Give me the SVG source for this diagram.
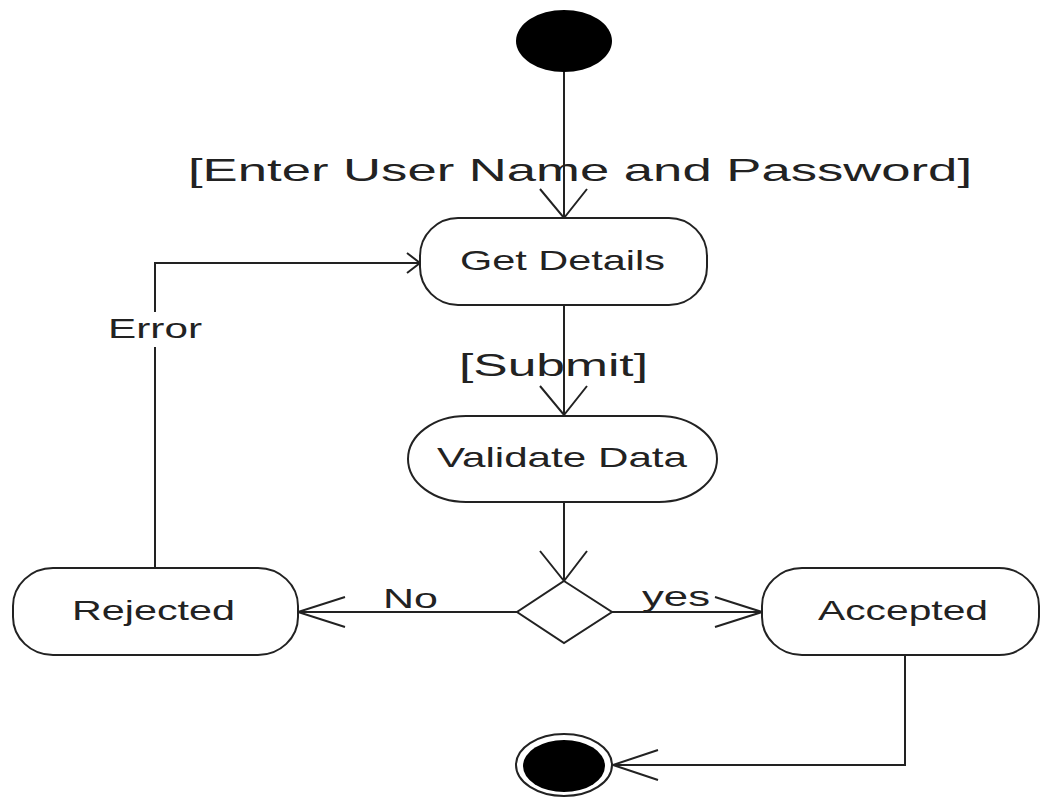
<svg xmlns="http://www.w3.org/2000/svg" width="1040" height="798" viewBox="0 0 1040 798">
<style>
.ln{fill:none;stroke:#222;stroke-width:2}
.nd{fill:#fff;stroke:#222;stroke-width:2}
.t{font-family:"Liberation Sans",Arial,sans-serif;fill:#222;text-anchor:start}
.s28{font-size:28px}
.s32{font-size:32px}
</style>
<rect width="1040" height="798" fill="#fff"/>
<g id="connectors">
<path class="ln" d="M564 72 V218"/>
<path class="ln" d="M540 189 L564 218 L587 189"/>
<path class="ln" d="M564 305 V415"/>
<path class="ln" d="M540 386 L564 415 L587 386"/>
<path class="ln" d="M564 502 V581"/>
<path class="ln" d="M540 551 L564 581 L587 551"/>
<path class="ln" d="M517 612 H298"/>
<path class="ln" d="M345 597 L298 612 L345 627"/>
<path class="ln" d="M612 612 H762"/>
<path class="ln" d="M715 597 L762 612 L715 627"/>
<path class="ln" d="M905 655 V765 H613"/>
<path class="ln" d="M658 750 L613 765 L658 780"/>
<path class="ln" d="M155 568 V347 M155 312 V263 H420"/>
<path class="ln" d="M407 253 L420 263 L407 273"/>
<text class="t s32" x="188" y="181" textLength="784" lengthAdjust="spacingAndGlyphs">[Enter User Name and Password]</text>
<text class="t s32" x="459" y="376" textLength="189" lengthAdjust="spacingAndGlyphs">[Submit]</text>
<text class="t s28" x="108" y="338" textLength="94" lengthAdjust="spacingAndGlyphs">Error</text>
<text class="t s28" x="383" y="608" textLength="55" lengthAdjust="spacingAndGlyphs">No</text>
<text class="t s28" x="642" y="606" textLength="68" lengthAdjust="spacingAndGlyphs">yes</text>
</g>
<g id="start"><ellipse cx="564" cy="41" rx="48" ry="31" fill="#000"/></g>
<g id="get-details">
<rect class="nd" x="420" y="218" width="287" height="87" rx="38" ry="38"/>
<text class="t s28" x="460" y="270" textLength="205" lengthAdjust="spacingAndGlyphs">Get Details</text>
</g>
<g id="validate-data">
<rect class="nd" x="408" y="416" width="309" height="86" rx="58" ry="43"/>
<text class="t s28" x="437" y="467" textLength="250" lengthAdjust="spacingAndGlyphs">Validate Data</text>
</g>
<g id="decision"><path class="nd" d="M564 581 L612 612 L564 643 L517 612 Z"/></g>
<g id="rejected">
<rect class="nd" x="13" y="568" width="285" height="87" rx="40" ry="38"/>
<text class="t s28" x="72" y="620" textLength="163" lengthAdjust="spacingAndGlyphs">Rejected</text>
</g>
<g id="accepted">
<rect class="nd" x="762" y="568" width="277" height="87" rx="40" ry="38"/>
<text class="t s28" x="818" y="620" textLength="170" lengthAdjust="spacingAndGlyphs">Accepted</text>
</g>
<g id="end">
<ellipse cx="564" cy="765" rx="48" ry="31" fill="#fff" stroke="#222" stroke-width="2"/>
<ellipse cx="564" cy="766" rx="41" ry="26" fill="#000"/>
</g>
</svg>
